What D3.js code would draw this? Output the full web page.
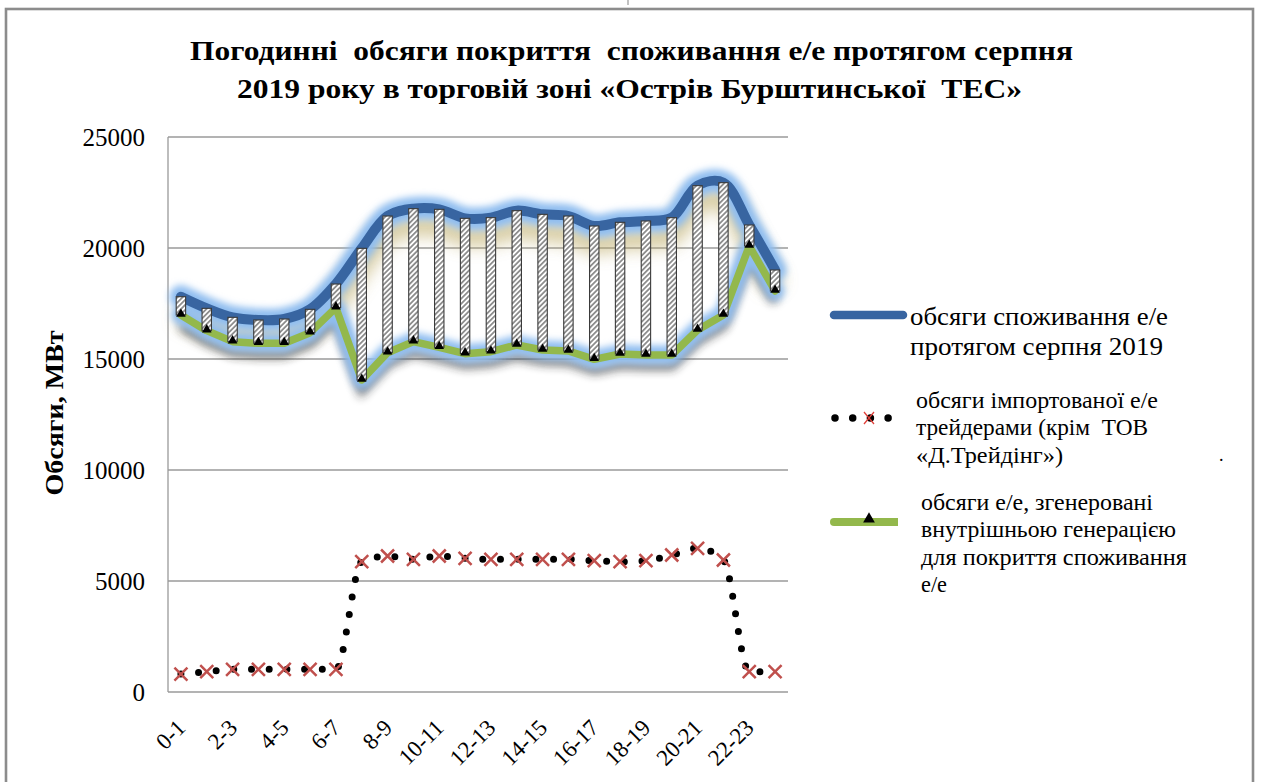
<!DOCTYPE html>
<html><head><meta charset="utf-8">
<script src="https://cdn.jsdelivr.net/npm/d3@7"></script>
<style>
body{margin:0;background:#fff}
svg{display:block}
text{font-family:"Liberation Serif","Times New Roman",serif;fill:#000;white-space:pre}
</style>
</head><body>
<svg id="c" width="1261" height="782"></svg>
<script>
const categories = ["0-1","1-2","2-3","3-4","4-5","5-6","6-7","7-8","8-9","9-10","10-11","11-12",
  "12-13","13-14","14-15","15-16","16-17","17-18","18-19","19-20","20-21","21-22","22-23","23-24"];
const tickLabels = ["0-1","2-3","4-5","6-7","8-9","10-11","12-13","14-15","16-17","18-19","20-21","22-23"];
const yTicks = [0,5000,10000,15000,20000,25000];
const consumption = [17806,17282,16877,16757,16802,17237,18378,19985,21441,21772,21742,21336,
  21366,21682,21516,21441,20991,21156,21216,21366,22808,22943,21036,19009];
const generation = [16982,16276,15781,15706,15706,16186,17312,14054,15284,15781,15526,15240,
  15330,15631,15405,15360,14985,15225,15180,15180,16306,16982,20090,18063];
const imports = [810,915,1020,1020,1020,1020,1020,5870,6126,5977,6126,6020,
  5977,5977,5977,5977,5915,5869,5915,6171,6473,5946,915,915];
const titleLines = ["Погодинні  обсяги покриття  споживання е/е протягом серпня",
  "2019 року в торговій зоні «Острів Бурштинської  ТЕС»"];
const yTitle = "Обсяги, МВт";
const legendConsumption = ["обсяги споживання е/е","протягом серпня 2019"];
const legendImports = ["обсяги імпортованої е/е","трейдерами (крім  ТОВ","«Д.Трейдінг»)"];
const legendGeneration = ["обсяги е/е, згенеровані","внутрішньою генерацією","для покриття споживання","е/е"];

const BLUE = "#3865a1", GREEN = "#93b84c", RED = "#c0504d", GLOW = "#8fbdf0";
const svg = d3.select("#c");
svg.append("rect").attr("width",1261).attr("height",782).attr("fill","#fff");

const defs = svg.append("defs");
const pat = defs.append("pattern").attr("id","hatch").attr("patternUnits","userSpaceOnUse")
  .attr("width",3.6).attr("height",3.6).attr("patternTransform","rotate(45)");
pat.append("rect").attr("width",3.6).attr("height",3.6).attr("fill","#fff");
pat.append("line").attr("x1",0.9).attr("y1",0).attr("x2",0.9).attr("y2",3.6).attr("stroke","#777").attr("stroke-width",1.5);
function blur(id, sd){
  defs.append("filter").attr("id",id).attr("x","-20%").attr("y","-60%").attr("width","140%").attr("height","220%")
    .append("feGaussianBlur").attr("stdDeviation",sd);
}
blur("b3",3.5); blur("b5",5); blur("b8",9);

// frame
svg.append("rect").attr("x",6).attr("y",9).attr("width",1247).attr("height",800)
  .attr("fill","none").attr("stroke","#8c8c8c").attr("stroke-width",2.6);
svg.append("line").attr("x1",628).attr("x2",628).attr("y1",0).attr("y2",5).attr("stroke","#999").attr("stroke-width",1.2);

const x = d3.scaleBand().domain(categories).range([168,788]);
const y = d3.scaleLinear().domain([0,25000]).range([692,137]);
const cx = i => x(categories[i]) + x.bandwidth()/2;

// grid
svg.append("g").selectAll("line").data(yTicks).join("line")
  .attr("x1",168).attr("x2",788).attr("y1",d=>y(d)).attr("y2",d=>y(d))
  .attr("stroke","#9a9a9a").attr("stroke-width",1.3);
svg.append("line").attr("x1",168).attr("x2",168).attr("y1",y(25000)).attr("y2",y(0))
  .attr("stroke","#9a9a9a").attr("stroke-width",1.3);

// axes
const ya = svg.append("g").attr("transform","translate(168,0)")
  .call(d3.axisLeft(y).tickValues(yTicks).tickSize(0).tickPadding(23).tickFormat(d3.format("d")));
ya.select(".domain").remove();
ya.selectAll("text").style("font-size","25px").style("font-family","'Liberation Serif',serif").attr("dy","0.34em");

const xa = svg.append("g").attr("transform","translate(0,692)")
  .call(d3.axisBottom(x).tickValues(tickLabels).tickSize(0).tickPadding(0));
xa.select(".domain").remove();
xa.selectAll("text").attr("y",0).attr("dy",0).attr("text-anchor","end")
  .attr("transform","translate(6,37) rotate(-45)")
  .style("font-size","23px").style("font-family","'Liberation Serif',serif");

// titles
svg.selectAll("text.title").data(titleLines).join("text").attr("class","title")
  .attr("x",(d,i)=>i?629.5:631.5).attr("y",(d,i)=>i?98:60).attr("text-anchor","middle")
  .attr("font-weight","bold").attr("font-size",28)
  .attr("textLength",(d,i)=>i?785:883).attr("lengthAdjust","spacingAndGlyphs").text(d=>d);
svg.append("text").attr("transform","translate(63,413) rotate(-90)").attr("text-anchor","middle")
  .attr("font-weight","bold").attr("font-size",26).attr("textLength",165).attr("lengthAdjust","spacingAndGlyphs")
  .text(yTitle);

// lines
const smooth = d3.line().x((d,i)=>cx(i)).y(d=>y(d)).curve(d3.curveCatmullRom.alpha(0.5));
const straight = d3.line().x((d,i)=>cx(i)).y(d=>y(d));
const mono = d3.line().x((d,i)=>cx(i)).y(d=>y(d)).curve(d3.curveMonotoneX);

// shadows
svg.append("path").attr("d",smooth(consumption)).attr("fill","none").attr("stroke","#bba860")
  .attr("stroke-width",18).attr("opacity",0.7).attr("transform","translate(0,17)").attr("filter","url(#b8)");
svg.append("path").attr("d",straight(generation)).attr("fill","none").attr("stroke","#222")
  .attr("stroke-width",8).attr("opacity",0.65).attr("transform","translate(0,11)").attr("filter","url(#b5)");
// glows
svg.append("path").attr("d",smooth(consumption)).attr("fill","none").attr("stroke",GLOW)
  .attr("stroke-width",23).attr("stroke-linecap","round").attr("filter","url(#b3)");
svg.append("path").attr("d",straight(generation)).attr("fill","none").attr("stroke",GLOW)
  .attr("stroke-width",19).attr("stroke-linejoin","round").attr("stroke-linecap","round").attr("filter","url(#b3)");
// main lines
svg.append("path").attr("d",smooth(consumption)).attr("fill","none").attr("stroke",BLUE)
  .attr("stroke-width",10).attr("stroke-linecap","round");
svg.append("path").attr("d",straight(generation)).attr("fill","none").attr("stroke",GREEN)
  .attr("stroke-width",7.5).attr("stroke-linejoin","round").attr("stroke-linecap","round");

// up-down bars
svg.append("g").selectAll("rect").data(categories).join("rect")
  .attr("x",(d,i)=>cx(i)-4.7).attr("width",9.4)
  .attr("y",(d,i)=>y(consumption[i])).attr("height",(d,i)=>y(generation[i])-y(consumption[i]))
  .attr("fill","url(#hatch)").attr("stroke","#3a3a3a").attr("stroke-width",1.1);

// triangles
const tri = d3.symbol(d3.symbolTriangle, 40);
svg.append("g").selectAll("path").data(generation).join("path")
  .attr("d",tri).attr("transform",(d,i)=>`translate(${cx(i)},${y(d)-1})`).attr("fill","#000");

// imports dotted line
svg.append("path").attr("d",mono(imports)).attr("fill","none").attr("stroke","#000")
  .attr("stroke-width",7).attr("stroke-linecap","round").attr("stroke-dasharray","0,17.7");
svg.append("g").selectAll("path").data(imports).join("path")
  .attr("d","M-6.5,-6.5L6.5,6.5M-6.5,6.5L6.5,-6.5").attr("transform",(d,i)=>`translate(${cx(i)},${y(d)})`)
  .attr("stroke",RED).attr("stroke-width",2.5).attr("fill","none");

// legend
const lg = svg.append("g");
lg.append("line").attr("x1",834).attr("x2",903).attr("y1",315).attr("y2",315)
  .attr("stroke",BLUE).attr("stroke-width",8.5).attr("stroke-linecap","round");
lg.append("line").attr("x1",835).attr("x2",890).attr("y1",418).attr("y2",418)
  .attr("stroke","#000").attr("stroke-width",7.5).attr("stroke-linecap","round").attr("stroke-dasharray","0,17.7");
lg.append("path").attr("d","M-5,-6L5,6M-5,6L5,-6").attr("transform","translate(869,418)")
  .attr("stroke","#e0403a").attr("stroke-width",1.3).attr("fill","none");
lg.append("line").attr("x1",834).attr("x2",898).attr("y1",522).attr("y2",522)
  .attr("stroke",GREEN).attr("stroke-width",8).attr("stroke-linecap","butt");
lg.append("circle").attr("cx",834).attr("cy",522).attr("r",4).attr("fill",GREEN);
lg.append("path").attr("d",d3.symbol(d3.symbolTriangle,60)()).attr("transform","translate(869,519)").attr("fill","#000");

function block(lines, x0, ys, size, widths){
  lg.selectAll(null).data(lines).join("text").attr("x",x0).attr("y",(d,i)=>ys[i])
    .attr("font-size",size).attr("textLength",(d,i)=>widths[i]).attr("lengthAdjust","spacingAndGlyphs").text(d=>d);
}
block(legendConsumption, 910, [325,355], 26, [258,253]);
block(legendImports, 916, [408,435,463], 23, [242,232,147]);
block(legendGeneration, 921, [510,537,565,592], 23, [232,255,266,26]);
lg.append("text").attr("x",1219).attr("y",461).attr("font-size",18).text(".");
</script>
</body></html>
